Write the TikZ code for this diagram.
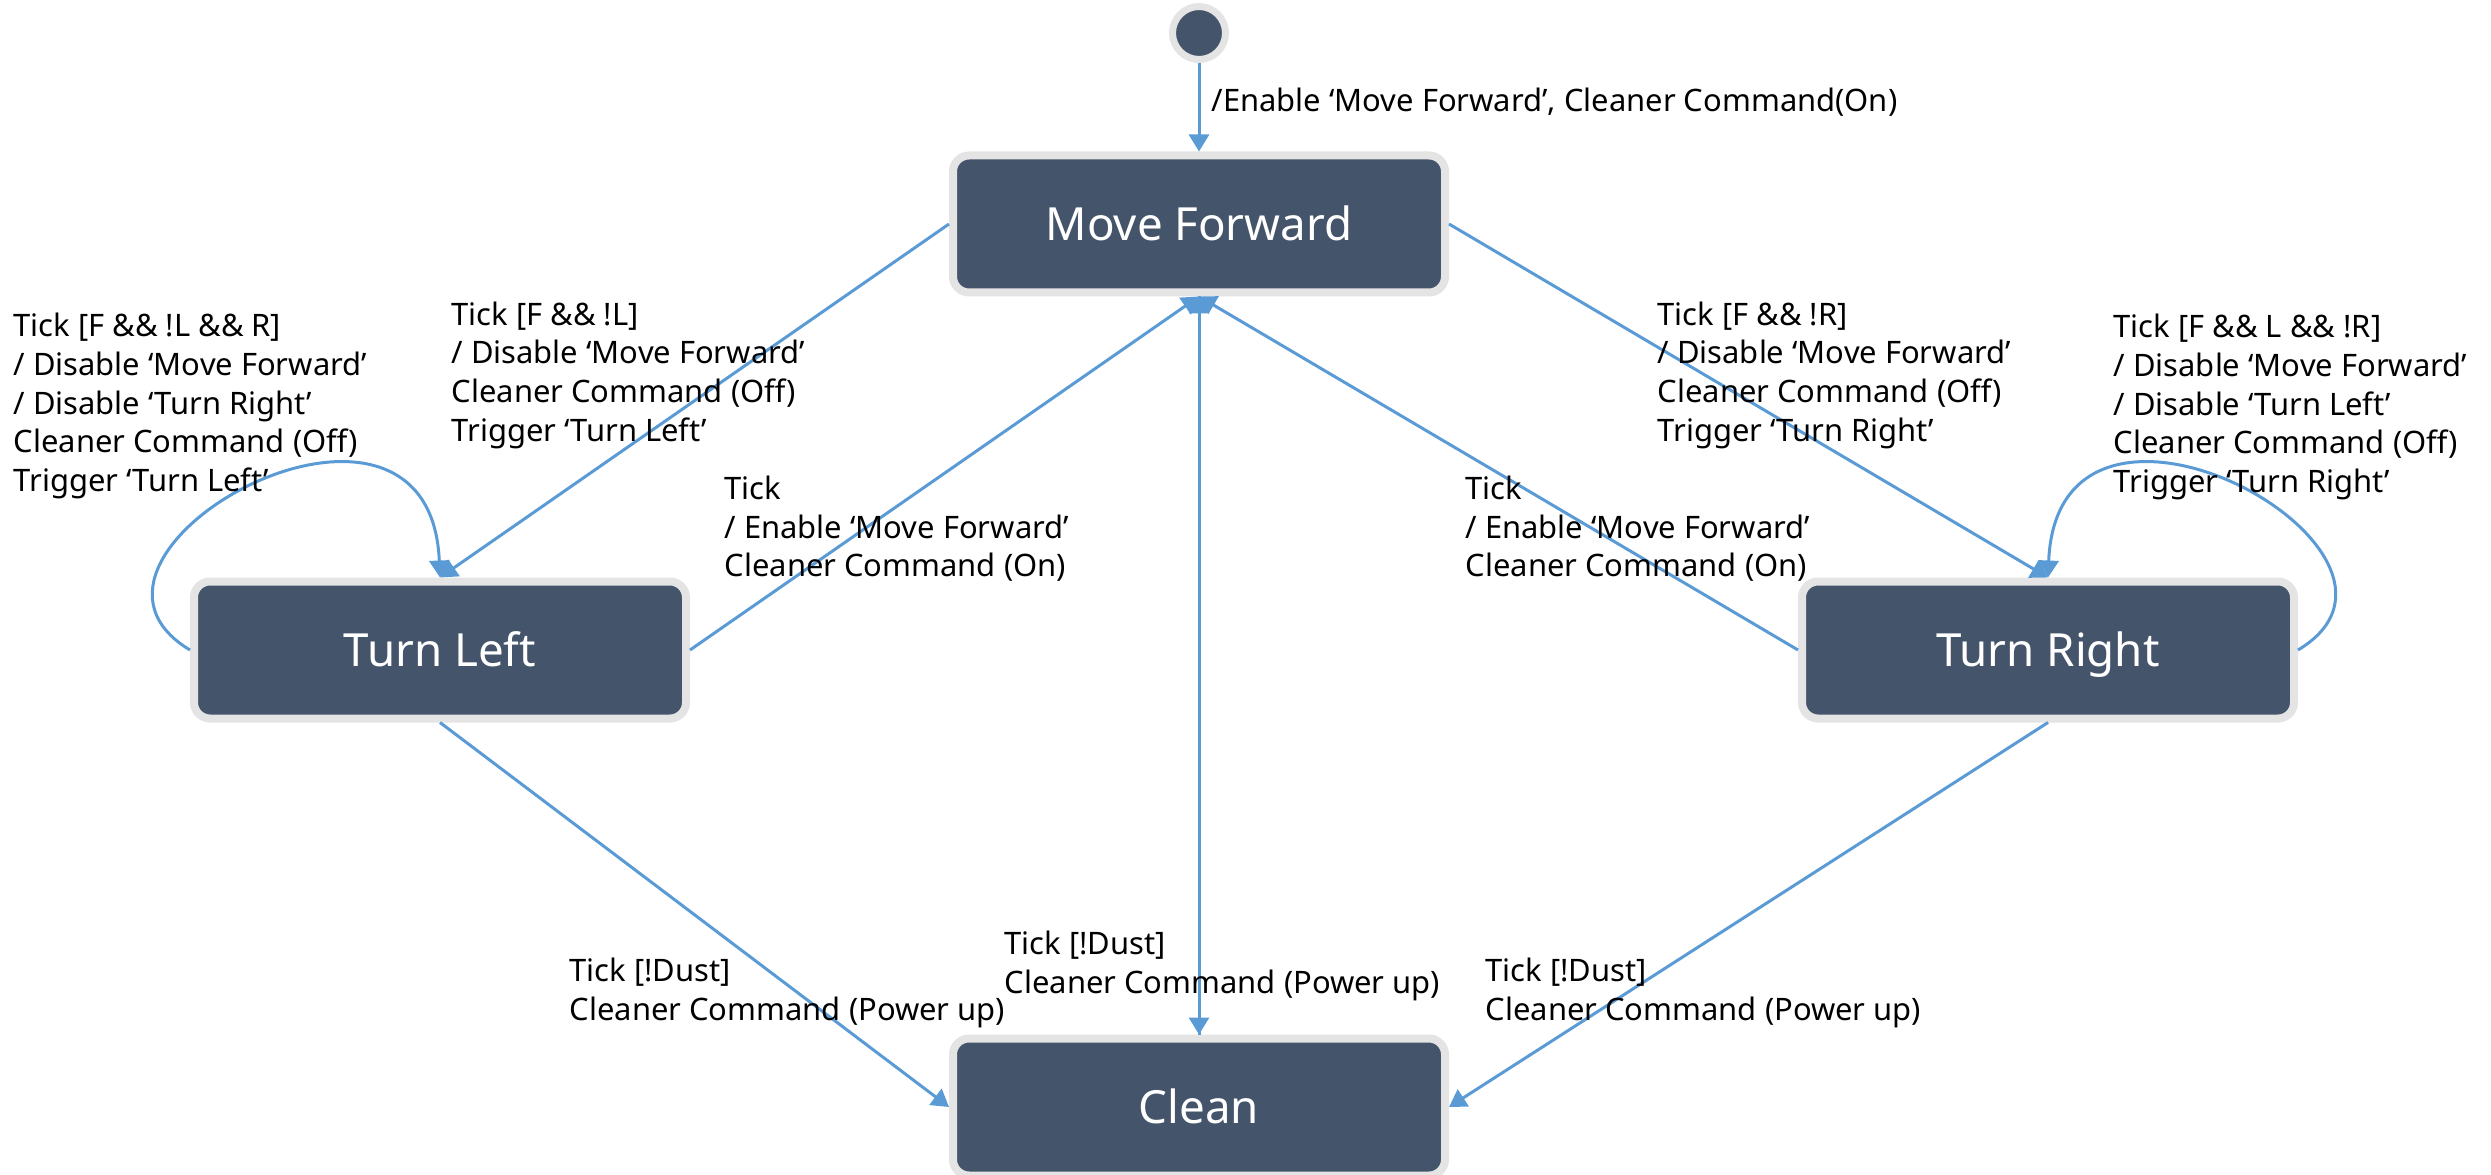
\documentclass[tikz,border=0pt]{standalone}
\usepackage{fontspec}
\setmainfont{Noto Sans}
\usetikzlibrary{arrows.meta}
\usetikzlibrary{calc}
\definecolor{boxfill}{HTML}{44546A}
\definecolor{boxedge}{HTML}{E4E4E4}
\definecolor{linkblue}{HTML}{5B9BD5}

\begin{document}
\begin{tikzpicture}[every node/.style = {align=left, inner sep=0pt},
	statebox/.style = {draw=boxedge, fill=boxfill, line width=0.08cm, rounded corners=0.16cm, minimum width=4.92cm, minimum height=1.37cm, align=center, text=white, text height=9.3pt, text depth=0pt, font=\fontsize{13}{15}\selectfont},
	note/.style = {anchor=west, font=\fontsize{8.8}{11}\selectfont},
	trans/.style = {draw=linkblue, line width=0.03cm, -{Triangle[width=0.2cm, length=0.17cm]}}]
		\useasboundingbox (0,0) rectangle (24.91,11.74);
		% states
		\node[circle, draw=boxedge, fill=boxfill, line width=0.07cm, minimum size=0.53cm] (init) at (11.99,11.41) {};
		\node[statebox] (MF) at (11.99,9.50) {Move Forward};
		\node[statebox] (TL) at (4.40,5.24) {Turn Left};
		\node[statebox] (TR) at (20.48,5.24) {Turn Right};
		\node[statebox] (CL) at (11.99,0.67) {Clean};
		
		% transitions
		\path (init) edge[trans] (MF) (MF.west) edge[trans] (TL.north) (TL.east) edge[trans] (MF.south) (MF.east) edge[trans] (TR.north) (TR.west) edge[trans] (MF.south) (MF) edge[trans] (CL) (CL) edge[trans] (MF) (TL.south) edge[trans] (CL.west) (TR.south) edge[trans] (CL.east);
		\draw[trans] (TL.west) .. controls ($(TL.west)+(-1.6,0.96)$) and ($(TL.north)+(-0.1,2.44)$) .. (TL.north);
		\draw[trans] (TR.east) .. controls ($(TR.east)+(1.6,0.96)$) and ($(TR.north)+(0.1,2.44)$) .. (TR.north);
		
		% labels
		\node[note] (start) at (12.11,10.72) {/Enable ‘Move Forward’, Cleaner Command(On)};
		\node[note] (loopL) at (0.13,7.68) {Tick [F \&\& !L \&\& R]\\/ Disable ‘Move Forward’\\/ Disable ‘Turn Right’\\Cleaner Command (Off)\\Trigger ‘Turn Left’};
		\node[note] (toL) at (4.51,7.99) {Tick [F \&\& !L]\\/ Disable ‘Move Forward’\\Cleaner Command (Off)\\Trigger ‘Turn Left’};
		\node[note] (fromL) at (7.24,6.45) {Tick\\/ Enable ‘Move Forward’\\Cleaner Command (On)};
		\node[note] (toR) at (16.57,7.99) {Tick [F \&\& !R]\\/ Disable ‘Move Forward’\\Cleaner Command (Off)\\Trigger ‘Turn Right’};
		\node[note] (loopR) at (21.13,7.67) {Tick [F \&\& L \&\& !R]\\/ Disable ‘Move Forward’\\/ Disable ‘Turn Left’\\Cleaner Command (Off)\\Trigger ‘Turn Right’};
		\node[note] (fromR) at (14.65,6.45) {Tick\\/ Enable ‘Move Forward’\\Cleaner Command (On)};
		\node[note] (cleanL) at (5.69,1.81) {Tick [!Dust]\\Cleaner Command (Power up)};
		\node[note] (cleanM) at (10.04,2.08) {Tick [!Dust]\\Cleaner Command (Power up)};
		\node[note] (cleanR) at (14.85,1.81) {Tick [!Dust]\\Cleaner Command (Power up)};
		
\end{tikzpicture}
\end{document}
